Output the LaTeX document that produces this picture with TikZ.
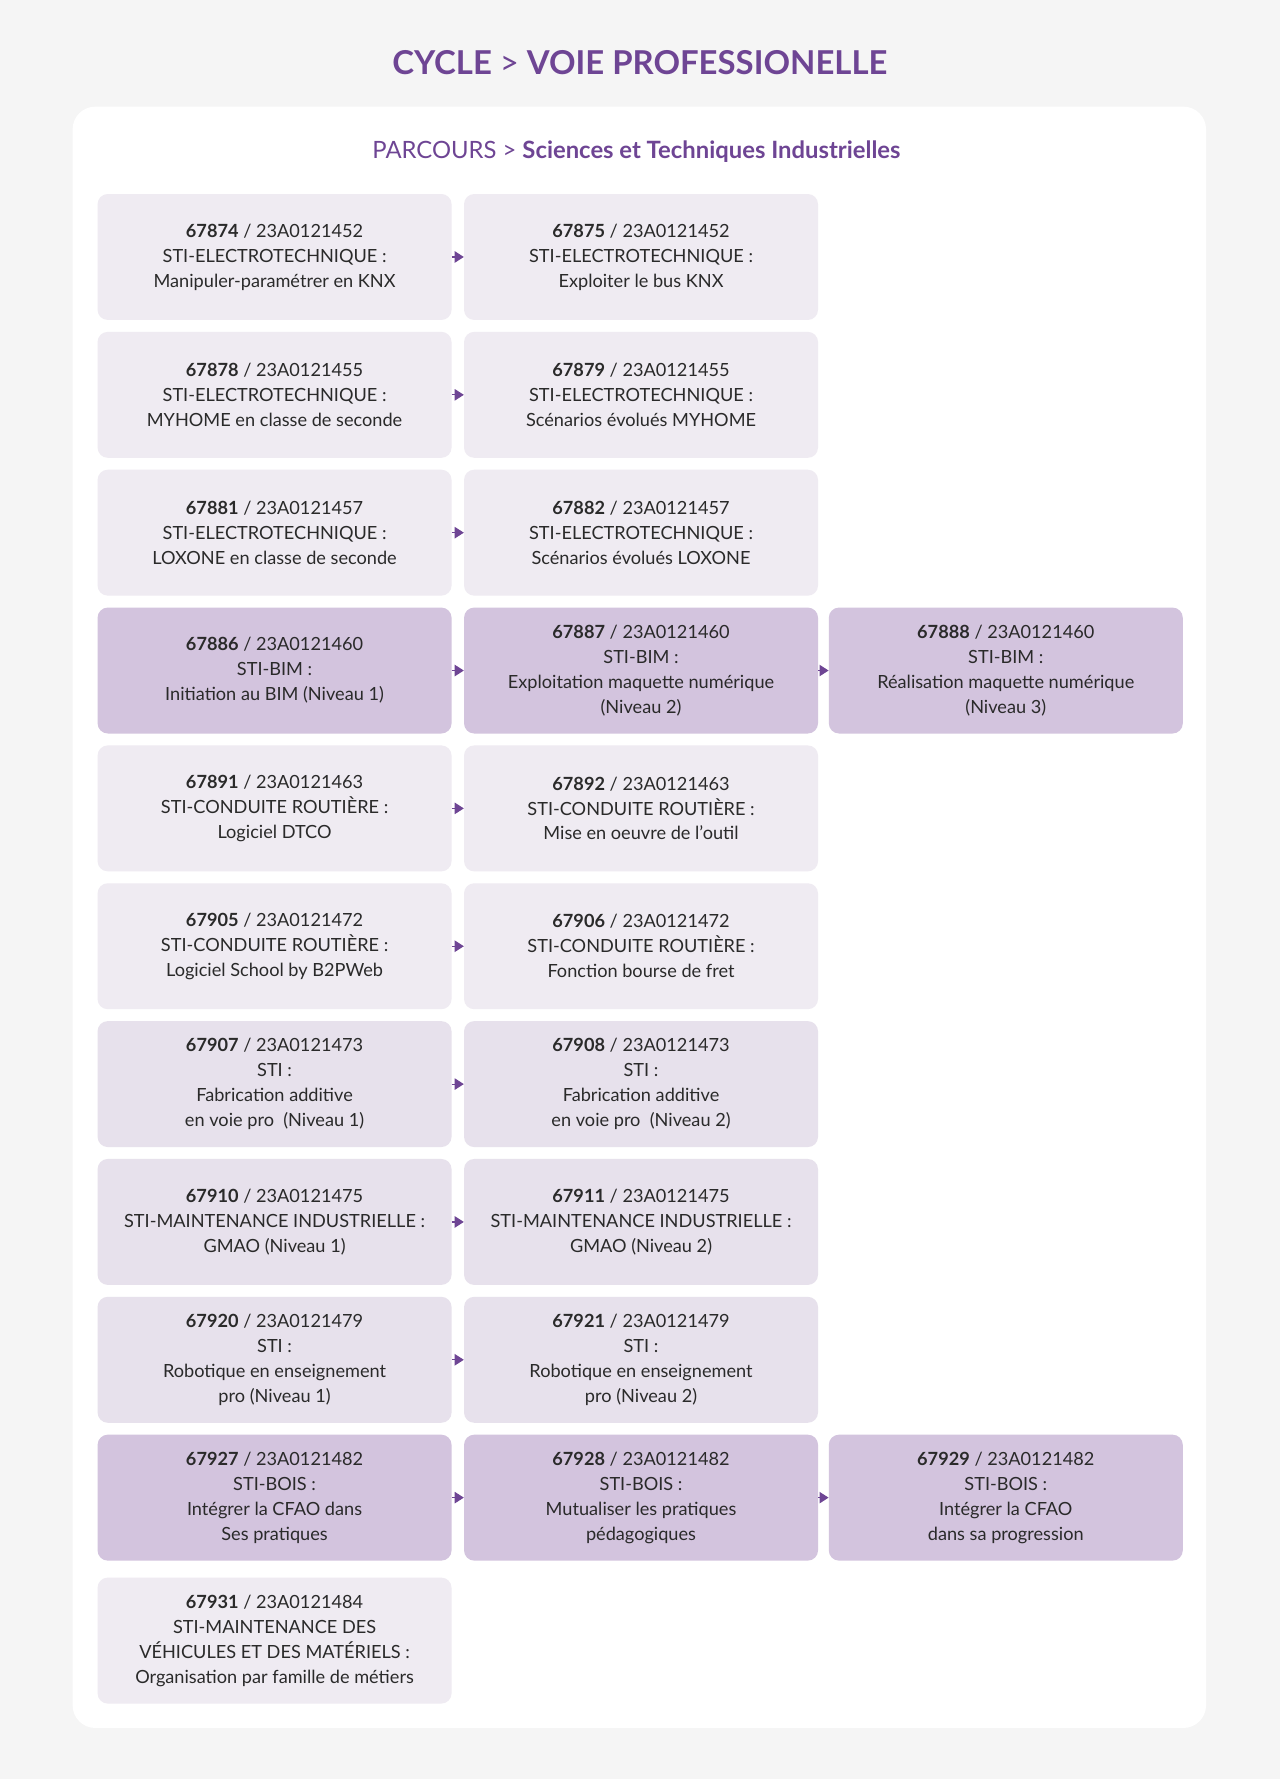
\documentclass[tikz,border=0pt]{standalone}
\usepackage{fontspec}
\setmainfont{Lato}
\usetikzlibrary{arrows.meta}
\definecolor{bgc}{HTML}{F5F5F5}
\definecolor{purp}{HTML}{6E4594}
\definecolor{lbox}{HTML}{EFEBF2}
\definecolor{mbox}{HTML}{E7E1EC}
\definecolor{dbox}{HTML}{D3C4DE}
\definecolor{txt}{HTML}{2A2A2A}
\tikzset{
 box/.style={rounded corners=9pt, minimum width=312pt, minimum height=111pt, align=center, text=txt, inner sep=2pt, font=\fontsize{16}{22}\selectfont},
 arr/.style={draw=purp, line width=1pt, -{Triangle[length=8pt,width=10pt]}, purp}
}
\newcommand{\bx}[6]{\node[box, fill=#4] (#1) at (#2,#3) {#5\\#6};}
\begin{document}
\begin{tikzpicture}[x=1pt,y=-1pt]
\fill[bgc] (0,0) rectangle (1128,1568);
\useasboundingbox (0,0) rectangle (1128,1568);
\fill[white, rounded corners=20pt] (64,94) rectangle (1063,1523);
\node[text=purp, font=\fontsize{29}{34}\selectfont\bfseries] (title) at (564,55) {CYCLE {\mdseries >} VOIE PROFESSIONELLE};
\node[text=purp, font=\fontsize{21}{26}\selectfont] (sub) at (561,134) {PARCOURS > \textbf{Sciences et Techniques Industrielles}};
% row 1
\node[box, fill=lbox] (a1) at (242,226.5) {\textbf{67874} / 23A0121452\\STI-ELECTROTECHNIQUE :\\Manipuler-paramétrer en KNX};
\node[box, fill=lbox] (b1) at (565,226.5) {\textbf{67875} / 23A0121452\\STI-ELECTROTECHNIQUE :\\Exploiter le bus KNX};
\node[box, fill=lbox] (a2) at (242,348) {\textbf{67878} / 23A0121455\\STI-ELECTROTECHNIQUE :\\MYHOME en classe de seconde};
\node[box, fill=lbox] (b2) at (565,348) {\textbf{67879} / 23A0121455\\STI-ELECTROTECHNIQUE :\\Scénarios évolués MYHOME};
\node[box, fill=lbox] (a3) at (242,469.5) {\textbf{67881} / 23A0121457\\STI-ELECTROTECHNIQUE :\\LOXONE en classe de seconde};
\node[box, fill=lbox] (b3) at (565,469.5) {\textbf{67882} / 23A0121457\\STI-ELECTROTECHNIQUE :\\Scénarios évolués LOXONE};
\node[box, fill=dbox] (a4) at (242,591) {\textbf{67886} / 23A0121460\\STI-BIM :\\Initiation au BIM (Niveau 1)};
\node[box, fill=dbox] (b4) at (565,591) {\textbf{67887} / 23A0121460\\STI-BIM :\\Exploitation maquette numérique\\(Niveau 2)};
\node[box, fill=dbox] (c4) at (886.5,591) {\textbf{67888} / 23A0121460\\STI-BIM :\\Réalisation maquette numérique\\(Niveau 3)};
\node[box, fill=lbox] (a5) at (242,712.5) {\textbf{67891} / 23A0121463\\STI-CONDUITE ROUTIÈRE :\\Logiciel DTCO};
\node[box, fill=lbox] (b5) at (565,712.5) {\textbf{67892} / 23A0121463\\STI-CONDUITE ROUTIÈRE :\\Mise en oeuvre de l'outil};
\node[box, fill=lbox] (a6) at (242,834) {\textbf{67905} / 23A0121472\\STI-CONDUITE ROUTIÈRE :\\Logiciel School by B2PWeb};
\node[box, fill=lbox] (b6) at (565,834) {\textbf{67906} / 23A0121472\\STI-CONDUITE ROUTIÈRE :\\Fonction bourse de fret};
\node[box, fill=mbox] (a7) at (242,955.5) {\textbf{67907} / 23A0121473\\STI :\\Fabrication additive\\en voie pro~ (Niveau 1)};
\node[box, fill=mbox] (b7) at (565,955.5) {\textbf{67908} / 23A0121473\\STI :\\Fabrication additive\\en voie pro~ (Niveau 2)};
\node[box, fill=mbox] (a8) at (242,1077) {\textbf{67910} / 23A0121475\\STI-MAINTENANCE INDUSTRIELLE :\\GMAO (Niveau 1)};
\node[box, fill=mbox] (b8) at (565,1077) {\textbf{67911} / 23A0121475\\STI-MAINTENANCE INDUSTRIELLE :\\GMAO (Niveau 2)};
\node[box, fill=mbox] (a9) at (242,1198.5) {\textbf{67920} / 23A0121479\\STI :\\Robotique en enseignement\\pro (Niveau 1)};
\node[box, fill=mbox] (b9) at (565,1198.5) {\textbf{67921} / 23A0121479\\STI :\\Robotique en enseignement\\pro (Niveau 2)};
\node[box, fill=dbox] (a10) at (242,1320) {\textbf{67927} / 23A0121482\\STI-BOIS :\\Intégrer la CFAO dans\\Ses pratiques};
\node[box, fill=dbox] (b10) at (565,1320) {\textbf{67928} / 23A0121482\\STI-BOIS :\\Mutualiser les pratiques\\pédagogiques};
\node[box, fill=dbox] (c10) at (886.5,1320) {\textbf{67929} / 23A0121482\\STI-BOIS :\\Intégrer la CFAO\\dans sa progression};
\node[box, fill=lbox] (a11) at (242,1446) {\textbf{67931} / 23A0121484\\STI-MAINTENANCE DES\\VÉHICULES ET DES MATÉRIELS :\\Organisation par famille de métiers};
\foreach \i in {1,...,10} {\draw[arr] (a\i.east) -- (b\i.west);}
\draw[arr] (b4.east) -- (c4.west);
\draw[arr] (b10.east) -- (c10.west);
\end{tikzpicture}
\end{document}
